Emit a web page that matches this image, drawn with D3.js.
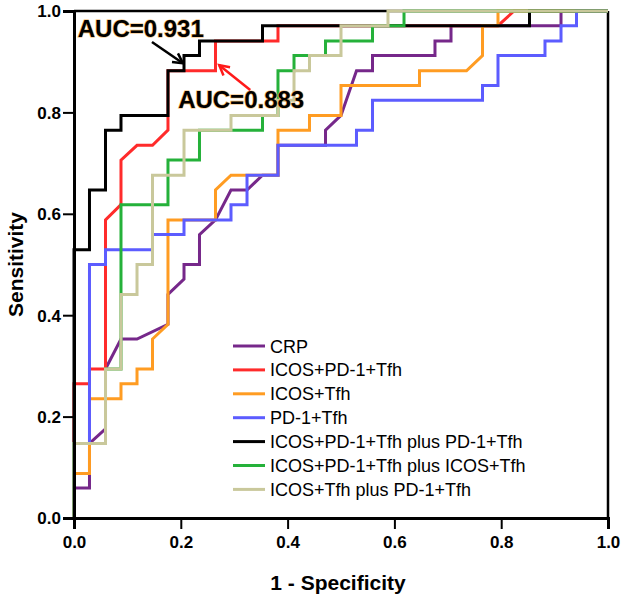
<!DOCTYPE html>
<html><head><meta charset="utf-8">
<script src="https://cdn.jsdelivr.net/npm/d3@7"></script>
<style>body{margin:0;background:#fff}svg{display:block}</style>
</head><body>
<svg id="c" width="624" height="600"></svg>
<script>
// ---- data (1 - specificity, sensitivity) ----
const seriesNames = ["CRP","ICOS+PD-1+Tfh","ICOS+Tfh","PD-1+Tfh","ICOS+PD-1+Tfh plus PD-1+Tfh","ICOS+PD-1+Tfh plus ICOS+Tfh","ICOS+Tfh plus PD-1+Tfh"];
const seriesColors = ["#76288a","#ff2b2b","#ff9c22","#5c5cff","#000000","#25b13a","#c9c89b"];

const crpX = [0,0,0.029,0.029,0.059,0.059,0.088,0.118,0.176,0.176,0.206,0.206,0.235,0.235,0.265,0.294,0.324,0.353,0.382,0.382,0.471,0.471,0.5,0.529,0.559,0.559,0.676,0.676,0.706,0.706,0.912,0.912,1];
const crpY = [0,0.059,0.059,0.147,0.176,0.294,0.353,0.353,0.382,0.441,0.471,0.5,0.5,0.559,0.588,0.647,0.647,0.676,0.676,0.735,0.735,0.765,0.794,0.882,0.882,0.912,0.912,0.941,0.941,0.971,0.971,1,1];

const icosPdX = [0,0,0.029,0.029,0.059,0.059,0.088,0.088,0.118,0.147,0.176,0.176,0.265,0.265,0.382,0.382,0.794,0.824,1];
const icosPdY = [0,0.265,0.265,0.294,0.294,0.588,0.618,0.706,0.735,0.735,0.765,0.882,0.882,0.941,0.941,0.971,0.971,1,1];

const icosX = [0,0,0.029,0.029,0.088,0.088,0.118,0.118,0.147,0.147,0.176,0.176,0.265,0.265,0.294,0.382,0.382,0.441,0.441,0.5,0.5,0.647,0.647,0.735,0.765,0.765,0.794,0.794,1];
const icosY = [0,0.088,0.088,0.235,0.235,0.265,0.265,0.294,0.294,0.353,0.382,0.588,0.588,0.647,0.676,0.676,0.765,0.765,0.794,0.794,0.853,0.853,0.882,0.882,0.912,0.971,0.971,1,1];

const pdX = [0,0,0.029,0.029,0.059,0.059,0.147,0.147,0.206,0.206,0.294,0.294,0.324,0.324,0.382,0.382,0.529,0.529,0.559,0.559,0.765,0.765,0.794,0.794,0.882,0.882,0.912,0.912,0.941,0.941,1];
const pdY = [0,0.147,0.147,0.5,0.5,0.529,0.529,0.559,0.559,0.588,0.588,0.618,0.618,0.676,0.676,0.735,0.735,0.765,0.765,0.824,0.824,0.853,0.853,0.912,0.912,0.941,0.941,0.971,0.971,1,1];

const icosPdPlusPdX = [0,0,0.029,0.029,0.059,0.059,0.088,0.088,0.176,0.176,0.206,0.206,0.235,0.235,0.353,0.353,0.853,0.853,1];
const icosPdPlusPdY = [0,0.529,0.529,0.647,0.647,0.765,0.765,0.794,0.794,0.882,0.882,0.912,0.912,0.941,0.941,0.971,0.971,1,1];

const icosPdPlusIcosX = [0,0,0.059,0.059,0.088,0.088,0.176,0.176,0.235,0.235,0.353,0.353,0.382,0.382,0.412,0.412,0.471,0.471,0.559,0.559,0.618,0.618,1];
const icosPdPlusIcosY = [0,0.147,0.147,0.294,0.294,0.618,0.618,0.706,0.706,0.765,0.765,0.794,0.794,0.882,0.882,0.912,0.912,0.941,0.941,0.971,0.971,1,1];

const icosPlusPdX = [0,0,0.059,0.059,0.088,0.088,0.118,0.118,0.147,0.147,0.206,0.206,0.294,0.294,0.382,0.382,0.412,0.412,0.441,0.441,0.5,0.5,0.588,0.588,1];
const icosPlusPdY = [0,0.147,0.147,0.294,0.294,0.441,0.441,0.5,0.5,0.676,0.676,0.765,0.765,0.794,0.794,0.824,0.824,0.882,0.882,0.912,0.912,0.971,0.971,1,1];

const tickValues = [0,0.2,0.4,0.6,0.8,1.0];
const aucLabels = ["AUC=0.931","AUC=0.883"];

// ---- drawing ----
const svg = d3.select("#c");
const x = d3.scaleLinear().domain([0,1]).range([74,608]);
const y = d3.scaleLinear().domain([0,1]).range([518,11]);

const seriesX = [crpX,icosPdX,icosX,pdX,icosPdPlusPdX,icosPdPlusIcosX,icosPlusPdX];
const seriesY = [crpY,icosPdY,icosY,pdY,icosPdPlusPdY,icosPdPlusIcosY,icosPlusPdY];
const series = seriesNames.map((n,i)=>({name:n,color:seriesColors[i],pts:seriesX[i].map((v,j)=>[v,seriesY[i][j]])}));

const line = d3.line().x(d=>x(d[0])).y(d=>y(d[1]));

// frame (top & right)
svg.append("line").attr("x1",x(0)).attr("x2",x(1)).attr("y1",y(1)).attr("y2",y(1)).attr("stroke","#000").attr("stroke-width",2.5);
svg.append("line").attr("x1",x(1)).attr("x2",x(1)).attr("y1",y(0)).attr("y2",y(1)).attr("stroke","#000").attr("stroke-width",2.5);

svg.append("g").selectAll("path").data(series).join("path")
  .attr("d",d=>line(d.pts)).attr("fill","none").attr("stroke",d=>d.color)
  .attr("stroke-width",3).attr("stroke-linejoin","miter");

// axes
const fmt = d3.format(".1f");
const xa = svg.append("g").attr("transform",`translate(0,${y(0)})`)
  .call(d3.axisBottom(x).tickValues(tickValues).tickFormat(fmt).tickSize(11).tickPadding(4));
const ya = svg.append("g").attr("transform",`translate(${x(0)},0)`)
  .call(d3.axisLeft(y).tickValues(tickValues).tickFormat(fmt).tickSize(11).tickPadding(2));
[xa,ya].forEach(a=>{
  a.select(".domain").attr("stroke","#000").attr("stroke-width",3);
  a.selectAll(".tick line").attr("stroke","#000").attr("stroke-width",2);
  a.selectAll(".tick text").attr("fill","#000").attr("font-family","Liberation Sans, Arial, sans-serif")
    .attr("font-weight","bold").attr("font-size",17);
});
ya.selectAll(".tick text").attr("dy","0.35em");
xa.selectAll(".tick text").attr("dy","0.9em");

// axis titles
svg.append("text").attr("x",338).attr("y",590).attr("text-anchor","middle")
  .attr("font-family","Liberation Sans, Arial, sans-serif").attr("font-weight","bold").attr("font-size",21)
  .text("1 - Specificity");
svg.append("text").attr("transform",`translate(23,${y(0.5)}) rotate(-90)`).attr("text-anchor","middle")
  .attr("font-family","Liberation Sans, Arial, sans-serif").attr("font-weight","bold").attr("font-size",21)
  .text("Sensitivity");

// legend
const lg = svg.append("g").selectAll("g").data(series).join("g")
  .attr("transform",(d,i)=>`translate(233,${346+i*23.9})`);
lg.append("line").attr("x1",0).attr("x2",32).attr("stroke",d=>d.color).attr("stroke-width",3);
lg.append("text").attr("x",37).attr("y",6.5).attr("font-family","Liberation Sans, Arial, sans-serif")
  .attr("font-size",18).attr("fill","#000").text(d=>d.name);

// AUC annotations
const ann = [
  {t:aucLabels[0], tx:0.007, ty:0.949, from:[0.146,0.939], to:[0.204,0.897], c:"#000"},
  {t:aucLabels[1], tx:0.195, ty:0.809, from:[0.330,0.844], to:[0.272,0.893], c:"#ff1a1a"}
];
ann.forEach(a=>{
  svg.append("text").attr("x",x(a.tx)).attr("y",y(a.ty))
    .attr("font-family","Liberation Sans, Arial, sans-serif").attr("font-weight","bold").attr("font-size",24)
    .attr("fill","#000").attr("stroke","#f2b868").attr("stroke-width",1.2).attr("paint-order","stroke")
    .text(a.t);
  const x1=x(a.from[0]),y1=y(a.from[1]),x2=x(a.to[0]),y2=y(a.to[1]);
  svg.append("line").attr("x1",x1).attr("y1",y1).attr("x2",x2).attr("y2",y2).attr("stroke",a.c).attr("stroke-width",2.5);
  const ang=Math.atan2(y2-y1,x2-x1), L=11, s=0.5;
  const p=[[x2-L*Math.cos(ang-s),y2-L*Math.sin(ang-s)],[x2,y2],[x2-L*Math.cos(ang+s),y2-L*Math.sin(ang+s)]];
  svg.append("path").attr("d",d3.line()(p)).attr("fill","none").attr("stroke",a.c).attr("stroke-width",2.5);
});
</script>
</body></html>
